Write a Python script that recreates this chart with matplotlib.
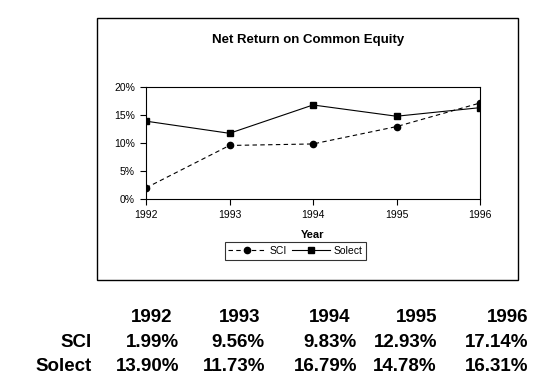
import matplotlib
matplotlib.use("Agg")
import matplotlib.pyplot as plt
from matplotlib.patches import Rectangle

years = [1992, 1993, 1994, 1995, 1996]
sci = [1.99, 9.56, 9.83, 12.93, 17.14]
solect = [13.90, 11.73, 16.79, 14.78, 16.31]
yticks = [0, 5, 10, 15, 20]

plt.rcParams['font.family'] = ['Liberation Sans', 'DejaVu Sans']

W, H = 538, 379
fig = plt.figure(figsize=(W / 100, H / 100), dpi=100)


def fx(px):
    return px / W


def fy(py):
    return (H - py) / H


# outer chart frame
fig.patches.append(Rectangle((fx(97), fy(280)), fx(518) - fx(97), fy(18) - fy(280),
                             transform=fig.transFigure, fill=False,
                             edgecolor='black', linewidth=1.0))

ax = fig.add_axes([fx(146), fy(199), fx(480) - fx(146), fy(87) - fy(199)])
ax.plot(years, sci, color='black', linestyle=(0, (4, 3)), linewidth=0.8,
        marker='o', markersize=4.5, label='SCI')
ax.plot(years, solect, color='black', linestyle='-', linewidth=0.8,
        marker='s', markersize=4.5, label='Solect')

ax.set_xlim(1992, 1996)
ax.set_ylim(0, 20)
ax.set_xticks(years)
ax.set_xticklabels([str(y) for y in years])
ax.set_yticks(yticks)
ax.set_yticklabels([f"{v}%" for v in yticks])
ax.tick_params(direction='out', length=4, width=0.8, labelsize=7.5, pad=4)
for s in ax.spines.values():
    s.set_linewidth(0.8)

fig.text(fx(308), fy(40), 'Net Return on Common Equity', ha='center', va='center',
         fontsize=9.5, fontweight='bold')
fig.text(fx(313), fy(235), 'Year', ha='center', va='center',
         fontsize=8, fontweight='bold')

leg = fig.legend(loc='center', bbox_to_anchor=(fx(295.5), fy(251)), ncol=2,
                 fontsize=7.5, frameon=True, fancybox=False, edgecolor='black',
                 handlelength=3.6, columnspacing=0.5, handletextpad=0.4,
                 borderpad=0.35, borderaxespad=0)
leg.get_frame().set_linewidth(0.8)

# data table below chart
col_right = [179, 265, 357, 437, 528]
head_right = [172, 260, 350, 437, 528]
for x, y in zip(head_right, years):
    fig.text(fx(x), fy(322), str(y), ha='right', va='baseline',
             fontsize=13.5, fontweight='bold')
rows = [('SCI', sci, 347), ('Solect', solect, 371)]
for name, vals, base in rows:
    fig.text(fx(92), fy(base), name, ha='right', va='baseline',
             fontsize=13.5, fontweight='bold')
    for x, v in zip(col_right, vals):
        fig.text(fx(x), fy(base), f"{v:.2f}%", ha='right', va='baseline',
                 fontsize=13.5, fontweight='bold')

fig.savefig('out.png', dpi=100)
